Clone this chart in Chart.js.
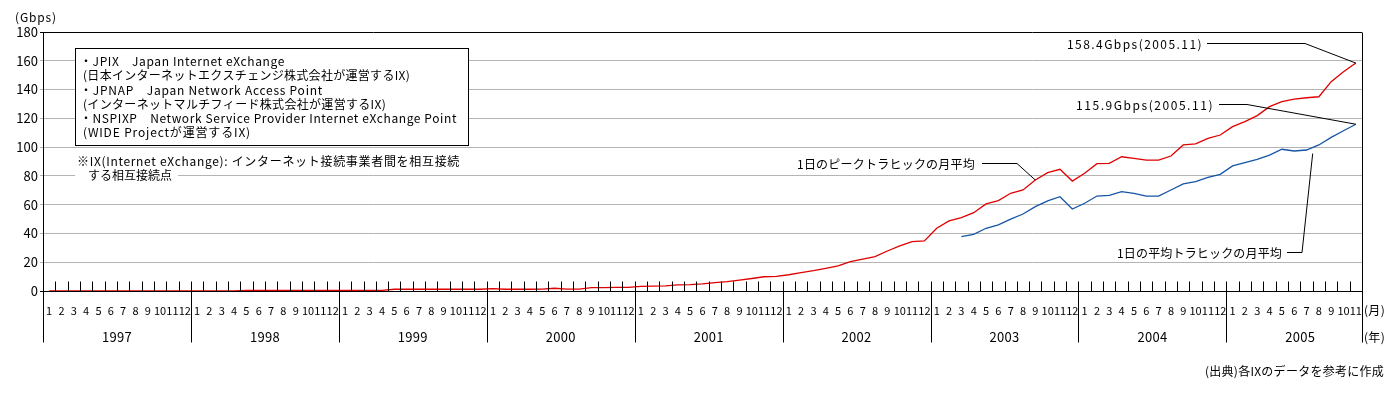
<!DOCTYPE html>
<html>
<head>
<meta charset="utf-8">
<script src="https://cdn.jsdelivr.net/npm/chart.js@4.4.1/dist/chart.umd.min.js"></script>
<style>
  body { margin: 0; background: #fff; }
  canvas { display: block; }
</style>
</head>
<body>
<canvas id="myChart" width="1398" height="394"></canvas>
<script>
// Data: monthly, Jan 1997 - Nov 2005 (Gbps)
const years = ['1997', '1998', '1999', '2000', '2001', '2002', '2003', '2004', '2005'];
const monthNames = ['1', '2', '3', '4', '5', '6', '7', '8', '9', '10', '11', '12'];
const monthsInLastYear = 11;

// 1日のピークトラヒックの月平均
const peakTraffic = [
  0.1, 0.1, 0.1, 0.1, 0.1, 0.1, 0.1, 0.1, 0.1, 0.1, 0.1, 0.1,          // 1997
  0.1, 0.1, 0.1, 0.1, 0.5, 0.5, 0.5, 0.5, 0.5, 0.5, 0.5, 0.5,          // 1998
  0.5, 0.5, 0.5, 0.5, 1.2, 1.2, 1.2, 1.2, 1.2, 1.2, 1.2, 1.2,          // 1999
  1.7, 1.2, 1.2, 1.2, 1.3, 1.9, 1.3, 1.3, 2.4, 2.4, 2.5, 2.5,          // 2000
  3.2, 3.4, 3.6, 4.2, 4.4, 5.0, 5.8, 6.5, 7.6, 8.7, 9.9, 10.2,         // 2001
  11.3, 12.7, 14.1, 15.8, 17.4, 20.4, 22.2, 23.9, 27.8, 31.3, 34.3, 34.8, // 2002
  43.6, 48.7, 51.0, 54.4, 60.5, 62.8, 67.9, 70.2, 77.1, 82.2, 84.6, 76.4, // 2003
  81.8, 88.5, 88.7, 93.3, 92.2, 91.0, 91.0, 93.8, 101.5, 102.2, 106.1, 108.4, // 2004
  114.2, 117.7, 121.9, 128.1, 131.6, 133.4, 134.3, 135.0, 145.5, 152.4, 158.4 // 2005
];

// 1日の平均トラヒックの月平均
const avgTraffic = [
  null, null, null, null, null, null, null, null, null, null, null, null, // 1997
  null, null, null, null, null, null, null, null, null, null, null, null, // 1998
  null, null, null, null, null, null, null, null, null, null, null, null, // 1999
  null, null, null, null, null, null, null, null, null, null, null, null, // 2000
  null, null, null, null, null, null, null, null, null, null, null, null, // 2001
  null, null, null, null, null, null, null, null, null, null, null, null, // 2002
  null, null, 37.8, 39.4, 43.6, 45.9, 50.0, 53.5, 58.6, 62.6, 65.5, 57.0, // 2003
  61.0, 66.0, 66.5, 69.0, 67.9, 66.0, 66.0, 70.2, 74.4, 76.0, 79.0, 81.1, // 2004
  86.9, 89.2, 91.5, 94.5, 98.5, 97.3, 98.0, 101.5, 106.8, 111.4, 115.9 // 2005
];

const yMax = 180;
const yStep = 20;

const legendLines = [
  '・JPIX　Japan Internet eXchange',
  '(日本インターネットエクスチェンジ株式会社が運営するIX)',
  '・JPNAP　Japan Network Access Point',
  '(インターネットマルチフィード株式会社が運営するIX)',
  '・NSPIXP　Network Service Provider Internet eXchange Point',
  '(WIDE Projectが運営するIX)'
];
const noteLines = ['※IX(Internet eXchange): インターネット接続事業者間を相互接続', 'する相互接続点'];
const peakEndLabel = '158.4Gbps(2005.11)';
const avgEndLabel = '115.9Gbps(2005.11)';
const peakSeriesLabel = '1日のピークトラヒックの月平均';
const avgSeriesLabel = '1日の平均トラヒックの月平均';
const unitLabel = '(Gbps)';
const monthUnit = '(月)';
const yearUnit = '(年)';
const sourceLabel = '(出典)各IXのデータを参考に作成';

// build category labels
let labels = [];
years.forEach(function (y, i) {
  let n = i === years.length - 1 ? monthsInLastYear : 12;
  for (let m = 0; m < n; m++) labels.push(monthNames[m]);
});

const FONT = '"Noto Sans CJK JP", "Noto Sans", sans-serif';

// draw text stretched to a given width
function fitText(ctx, text, x, y, w) {
  ctx.letterSpacing = '0px';
  let m = ctx.measureText(text).width;
  let ls = (w - m) / Math.max(text.length, 1);
  ctx.letterSpacing = ls + 'px';
  ctx.textAlign = 'left';
  ctx.fillText(text, x, y);
  ctx.letterSpacing = '0px';
}

function line(ctx, pts) {
  ctx.beginPath();
  ctx.moveTo(pts[0][0], pts[0][1]);
  for (let i = 1; i < pts.length; i++) ctx.lineTo(pts[i][0], pts[i][1]);
  ctx.stroke();
}

const decorPlugin = {
  id: 'decor',
  afterDraw: function (chart) {
    const ctx = chart.ctx;
    const xs = chart.scales.x;
    const ys = chart.scales.y;
    const area = chart.chartArea;
    const n = labels.length;
    const slot = (area.right - area.left) / n;
    const base = Math.round(area.bottom) + 0.5;

    ctx.save();
    ctx.strokeStyle = '#000';
    ctx.lineWidth = 1;
    ctx.fillStyle = '#000';
    ctx.textBaseline = 'middle';

    // month tick marks (inside), year separators
    for (let k = 0; k <= n; k++) {
      let x = Math.round(area.left + k * slot) + 0.5;
      line(ctx, [[x, base - 10], [x, base]]);
      if (k % 12 === 0 || k === n) line(ctx, [[x, base], [x, base + 51]]);
    }
    // right border
    let rx = Math.round(area.right) + 0.5;
    line(ctx, [[rx, Math.round(area.top) + 0.5], [rx, base]]);

    // month labels
    ctx.font = '11px ' + FONT;
    ctx.textAlign = 'center';
    for (let i = 0; i < n; i++) {
      ctx.fillText(labels[i], xs.getPixelForValue(i), base + 19);
    }
    // year labels
    ctx.font = '13px ' + FONT;
    years.forEach(function (y, j) {
      let x0 = area.left + j * 12 * slot;
      fitText(ctx, y, x0 + 6 * slot - 15, base + 46, 30);
    });
    ctx.font = '12px ' + FONT;
    fitText(ctx, monthUnit, 1364, base + 19, 21);
    fitText(ctx, yearUnit, 1364, base + 46, 21);
    fitText(ctx, unitLabel, 15, 17, 42);
    fitText(ctx, sourceLabel, 1205, 371, 179);

    // legend box
    ctx.fillStyle = '#fff';
    ctx.fillRect(75.5, 48.5, 393, 97);
    ctx.strokeRect(75.5, 48.5, 393, 97);
    ctx.fillStyle = '#000';
    const lx = [80, 83, 80, 83, 80, 83];
    const lw = [205, 327, 243, 303, 377, 168];
    const ly = [61.5, 75.5, 90, 104, 118, 132];
    legendLines.forEach(function (t, i) {
      fitText(ctx, t, lx[i], ly[i], lw[i]);
    });

    // note under the legend
    ctx.fillStyle = '#fff';
    ctx.fillRect(75, 168, 103, 14);
    ctx.fillStyle = '#000';
    fitText(ctx, noteLines[0], 77, 161.5, 383);
    fitText(ctx, noteLines[1], 88, 175, 84);

    // callouts
    let n1 = n - 1;
    let peakX = xs.getPixelForValue(n1), peakY = ys.getPixelForValue(peakTraffic[n1]);
    let avgX = xs.getPixelForValue(n1), avgY = ys.getPixelForValue(avgTraffic[n1]);
    fitText(ctx, peakEndLabel, 1067, 44, 136);
    line(ctx, [[1207, 43.5], [1305, 43.5], [peakX, peakY]]);
    fitText(ctx, avgEndLabel, 1076, 105, 138);
    line(ctx, [[1219, 104.5], [1247, 104.5], [avgX, avgY]]);

    let sepIdx = 6 * 12 + 8;
    fitText(ctx, peakSeriesLabel, 797, 164, 178);
    line(ctx, [[982, 163.5], [1017, 163.5], [xs.getPixelForValue(sepIdx), ys.getPixelForValue(peakTraffic[sepIdx])]]);
    fitText(ctx, avgSeriesLabel, 1117, 253, 165);
    line(ctx, [[1287, 252.5], [1302, 252.5], [xs.getPixelForValue(n1 - 3.5), ys.getPixelForValue(95.5)]]);

    ctx.restore();
  }
};

new Chart(document.getElementById('myChart'), {
  type: 'line',
  data: {
    labels: labels,
    datasets: [
      {
        label: peakSeriesLabel,
        data: peakTraffic,
        borderColor: '#e00000',
        borderWidth: 1.3,
        pointRadius: 0,
        tension: 0,
        fill: false
      },
      {
        label: avgSeriesLabel,
        data: avgTraffic,
        borderColor: '#1555a5',
        borderWidth: 1.3,
        pointRadius: 0,
        tension: 0,
        fill: false
      }
    ]
  },
  options: {
    responsive: false,
    animation: false,
    events: [],
    layout: { padding: { left: 0, right: 36, top: 32, bottom: 0 } },
    plugins: { legend: { display: false }, tooltip: { enabled: false } },
    scales: {
      x: {
        type: 'category',
        offset: true,
        grid: { display: false },
        border: { display: true, color: '#000', width: 1 },
        ticks: { display: false },
        afterFit: function (s) { s.height = 103; }
      },
      y: {
        min: 0,
        max: yMax,
        ticks: {
          stepSize: yStep,
          color: '#000',
          padding: 2,
          font: { family: FONT, size: 13 }
        },
        grid: {
          color: function (c) {
            return (c.tick && (c.tick.value === yMax || c.tick.value === 0)) ? '#000' : '#b4b4b4';
          },
          tickLength: 3
        },
        border: { display: true, color: '#000', width: 1 },
        afterFit: function (s) { s.width = 43; }
      }
    }
  },
  plugins: [decorPlugin]
});
</script>
</body>
</html>
